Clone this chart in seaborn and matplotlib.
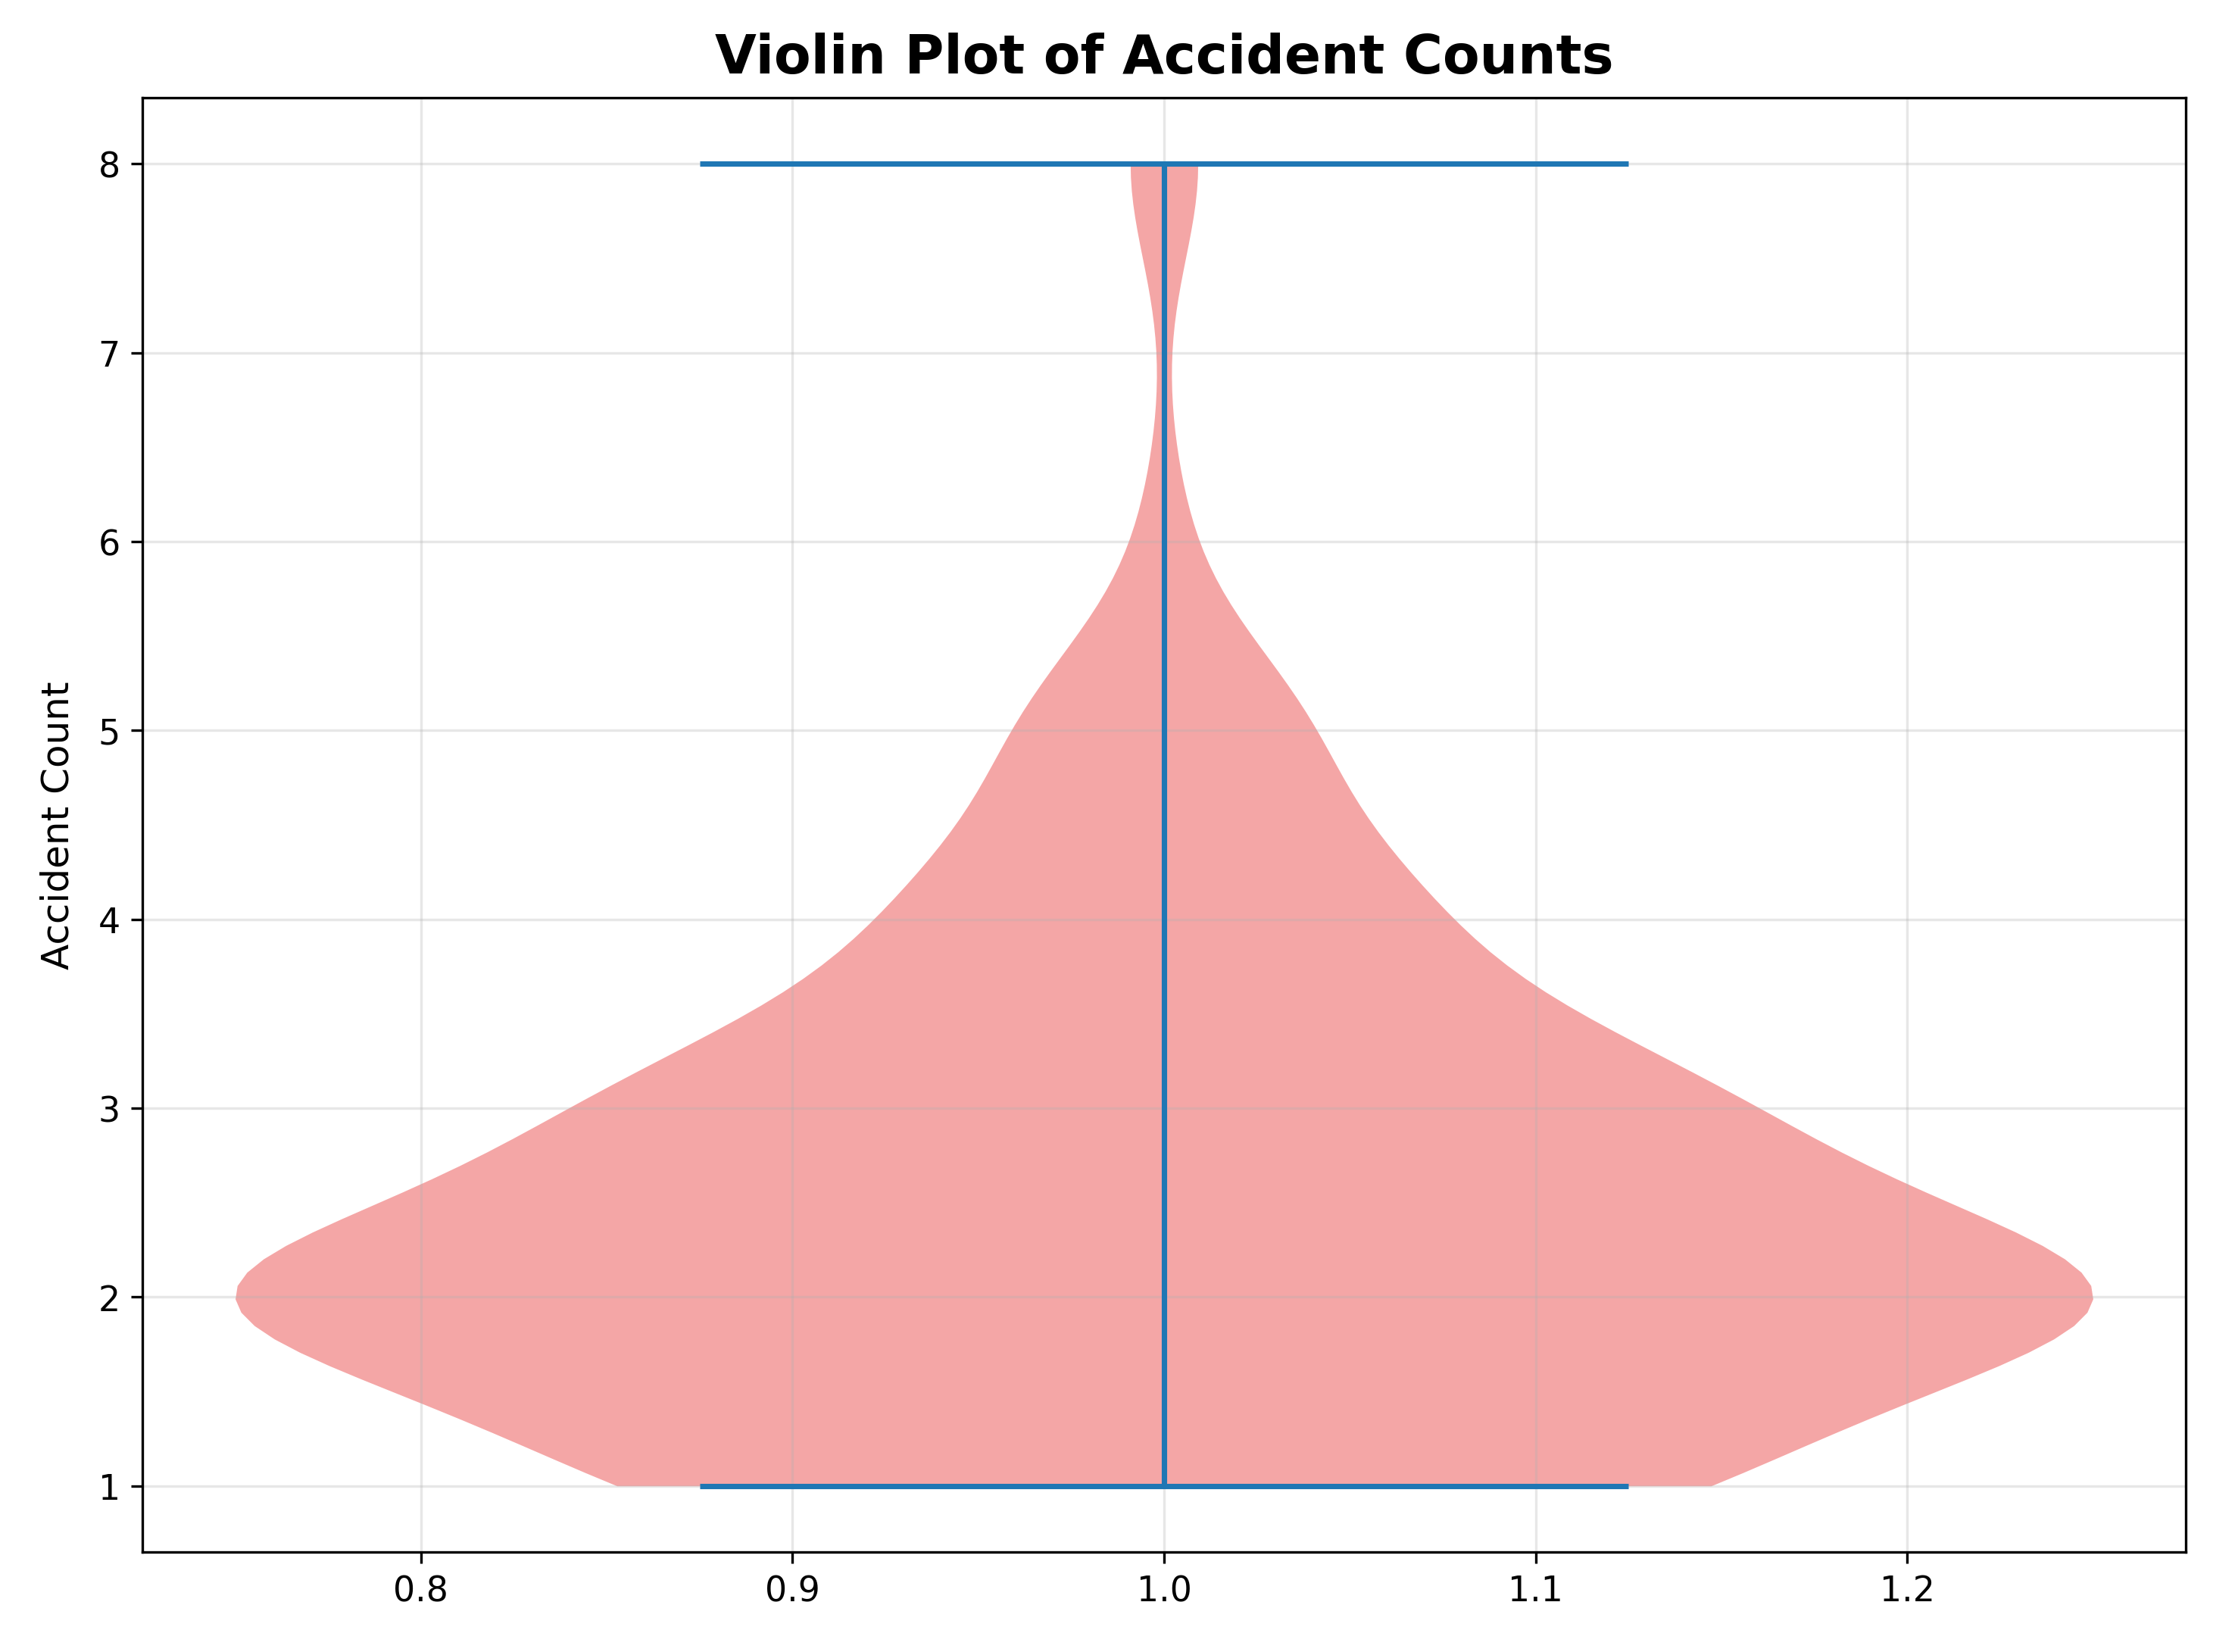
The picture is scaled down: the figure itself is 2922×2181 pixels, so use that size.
import numpy as np
import pandas as pd
import matplotlib
matplotlib.use('Agg')
import matplotlib.pyplot as plt
import seaborn as sns

# accident counts observed and how many records had each count
count_values = [1, 2, 3, 4, 5, 6, 7, 8]
frequencies = [25, 47, 26, 12, 7, 1, 0, 2]

accidents = np.repeat(count_values, frequencies)
df = pd.DataFrame({'position': 1.0, 'Accident Count': accidents})

fig = plt.figure(figsize=(9.74, 7.2733), dpi=300)
ax = fig.add_axes([0.0643, 0.0605, 0.9234, 0.8799])

sns.violinplot(data=df, x='position', y='Accident Count', orient='x',
               native_scale=True, cut=0, width=0.5, inner=None,
               color='lightcoral', saturation=1, alpha=0.7, linewidth=0, ax=ax)

# extrema bars and centre line like matplotlib's violinplot
pos = 1.0
lo, hi = accidents.min(), accidents.max()
ax.hlines([lo, hi], pos - 0.125, pos + 0.125, colors='C0', linewidth=1.7)
ax.vlines(pos, lo, hi, colors='C0', linewidth=1.7)

ax.set_title('Violin Plot of Accident Counts', fontsize=17, fontweight='bold', pad=8)
ax.set_xlabel('')
ax.set_ylabel('Accident Count', fontsize=12, labelpad=7)
ax.tick_params(labelsize=11)
ax.grid(True, alpha=0.3)

fig.savefig('out.png', dpi=300)
